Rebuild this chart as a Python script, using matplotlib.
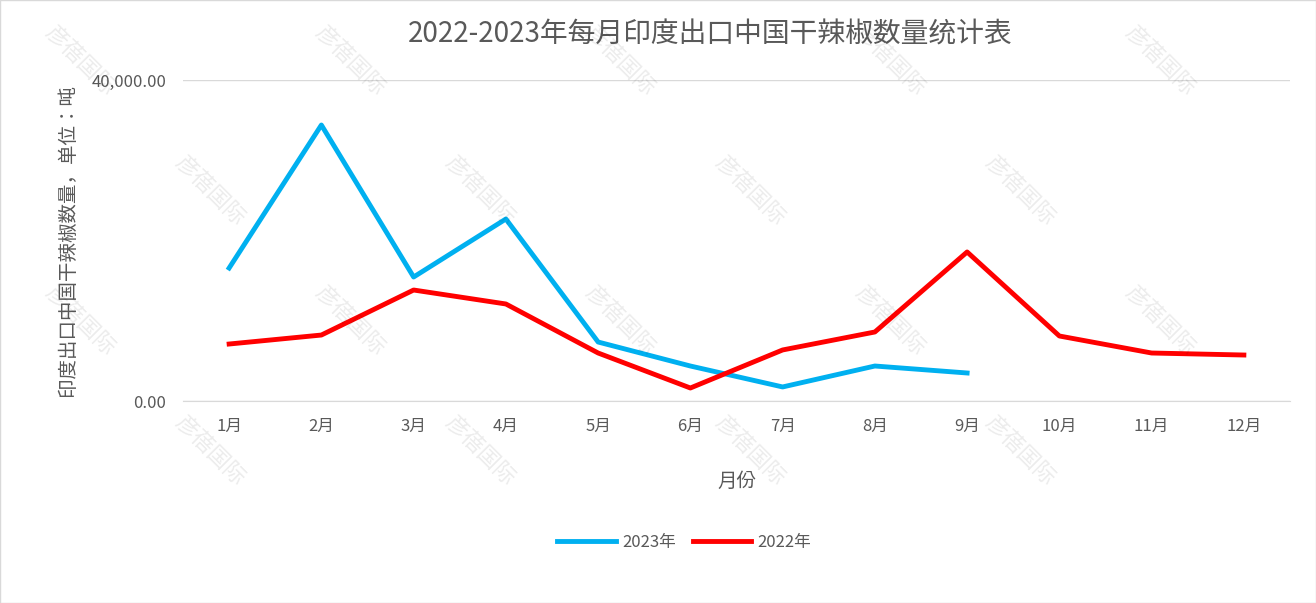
import matplotlib
matplotlib.use("Agg")
import matplotlib.pyplot as plt
from matplotlib import font_manager as fm

cjk = [f.name for f in fm.fontManager.ttflist if "CJK" in f.name]
pick = next((n for n in cjk if "SC" in n), cjk[0] if cjk else "DejaVu Sans")
plt.rcParams["font.family"] = [pick, "DejaVu Sans"]

months = ["1月","2月","3月","4月","5月","6月","7月","8月","9月","10月","11月","12月"]
y2023 = [16570, 34390, 15450, 22680, 7350, 4360, 1750, 4360, 3490]
y2022 = [7100, 8220, 13830, 12090, 5980, 1620, 6360, 8600, 18570, 8100, 5980, 5730]

fig = plt.figure(figsize=(13.16, 6.03), dpi=100)
ax = fig.add_axes([183/1316, 1-401/603, (1290-183)/1316, 321/603])
x = list(range(12))
ax.plot(x[:len(y2023)], y2023, color="#00B0F0", lw=3.5, label="2023年")
ax.plot(x, y2022, color="#FF0000", lw=3.5, label="2022年")
ax.set_xlim(-0.5, 11.5)
ax.set_ylim(0, 40000)
ax.set_yticks([0, 40000])
ax.set_yticklabels(["0.00", "40,000.00"], color="#595959", fontsize=12)
ax.set_xticks(x)
ax.set_xticklabels(months, color="#595959", fontsize=12)
ax.tick_params(length=0, pad=12)
ax.grid(axis="y", color="#D9D9D9", lw=1)
for s in ["top", "right", "left"]:
    ax.spines[s].set_visible(False)
ax.spines["bottom"].set_color("#D9D9D9")
ax.set_xlabel("月份", fontsize=14, color="#595959", labelpad=26)
ax.set_ylabel("印度出口中国干辣椒数量，单位：吨", fontsize=14, color="#595959")
ax.yaxis.set_label_coords(-0.095, 0.5)
fig.text(0.54, 1-35/603, "2022-2023年每月印度出口中国干辣椒数量统计表", ha="center", va="center",
         fontsize=20, color="#595959")
fig.legend(loc="center", bbox_to_anchor=(0.52, 1-542/603), ncol=2, frameon=False,
           fontsize=12, labelcolor="#595959", handlelength=3.5, columnspacing=1.0, handletextpad=0.4)
# watermarks
for r, yy in enumerate(range(60, 560, 130)):
    for xx in range(80, 1300, 270):
        px = xx + (r % 2) * 130
        if px > 1260:
            continue
        fig.text(px / 1316, 1 - yy / 603, "彦蓓国际", rotation=-45,
                 fontsize=16, color="#000000", alpha=0.08, ha="center", va="center")
fig.patches.append(plt.Rectangle((0, 0), 1, 1, transform=fig.transFigure, fill=False,
                                 edgecolor="#D9D9D9", lw=1))
fig.savefig("out.png", dpi=100)
